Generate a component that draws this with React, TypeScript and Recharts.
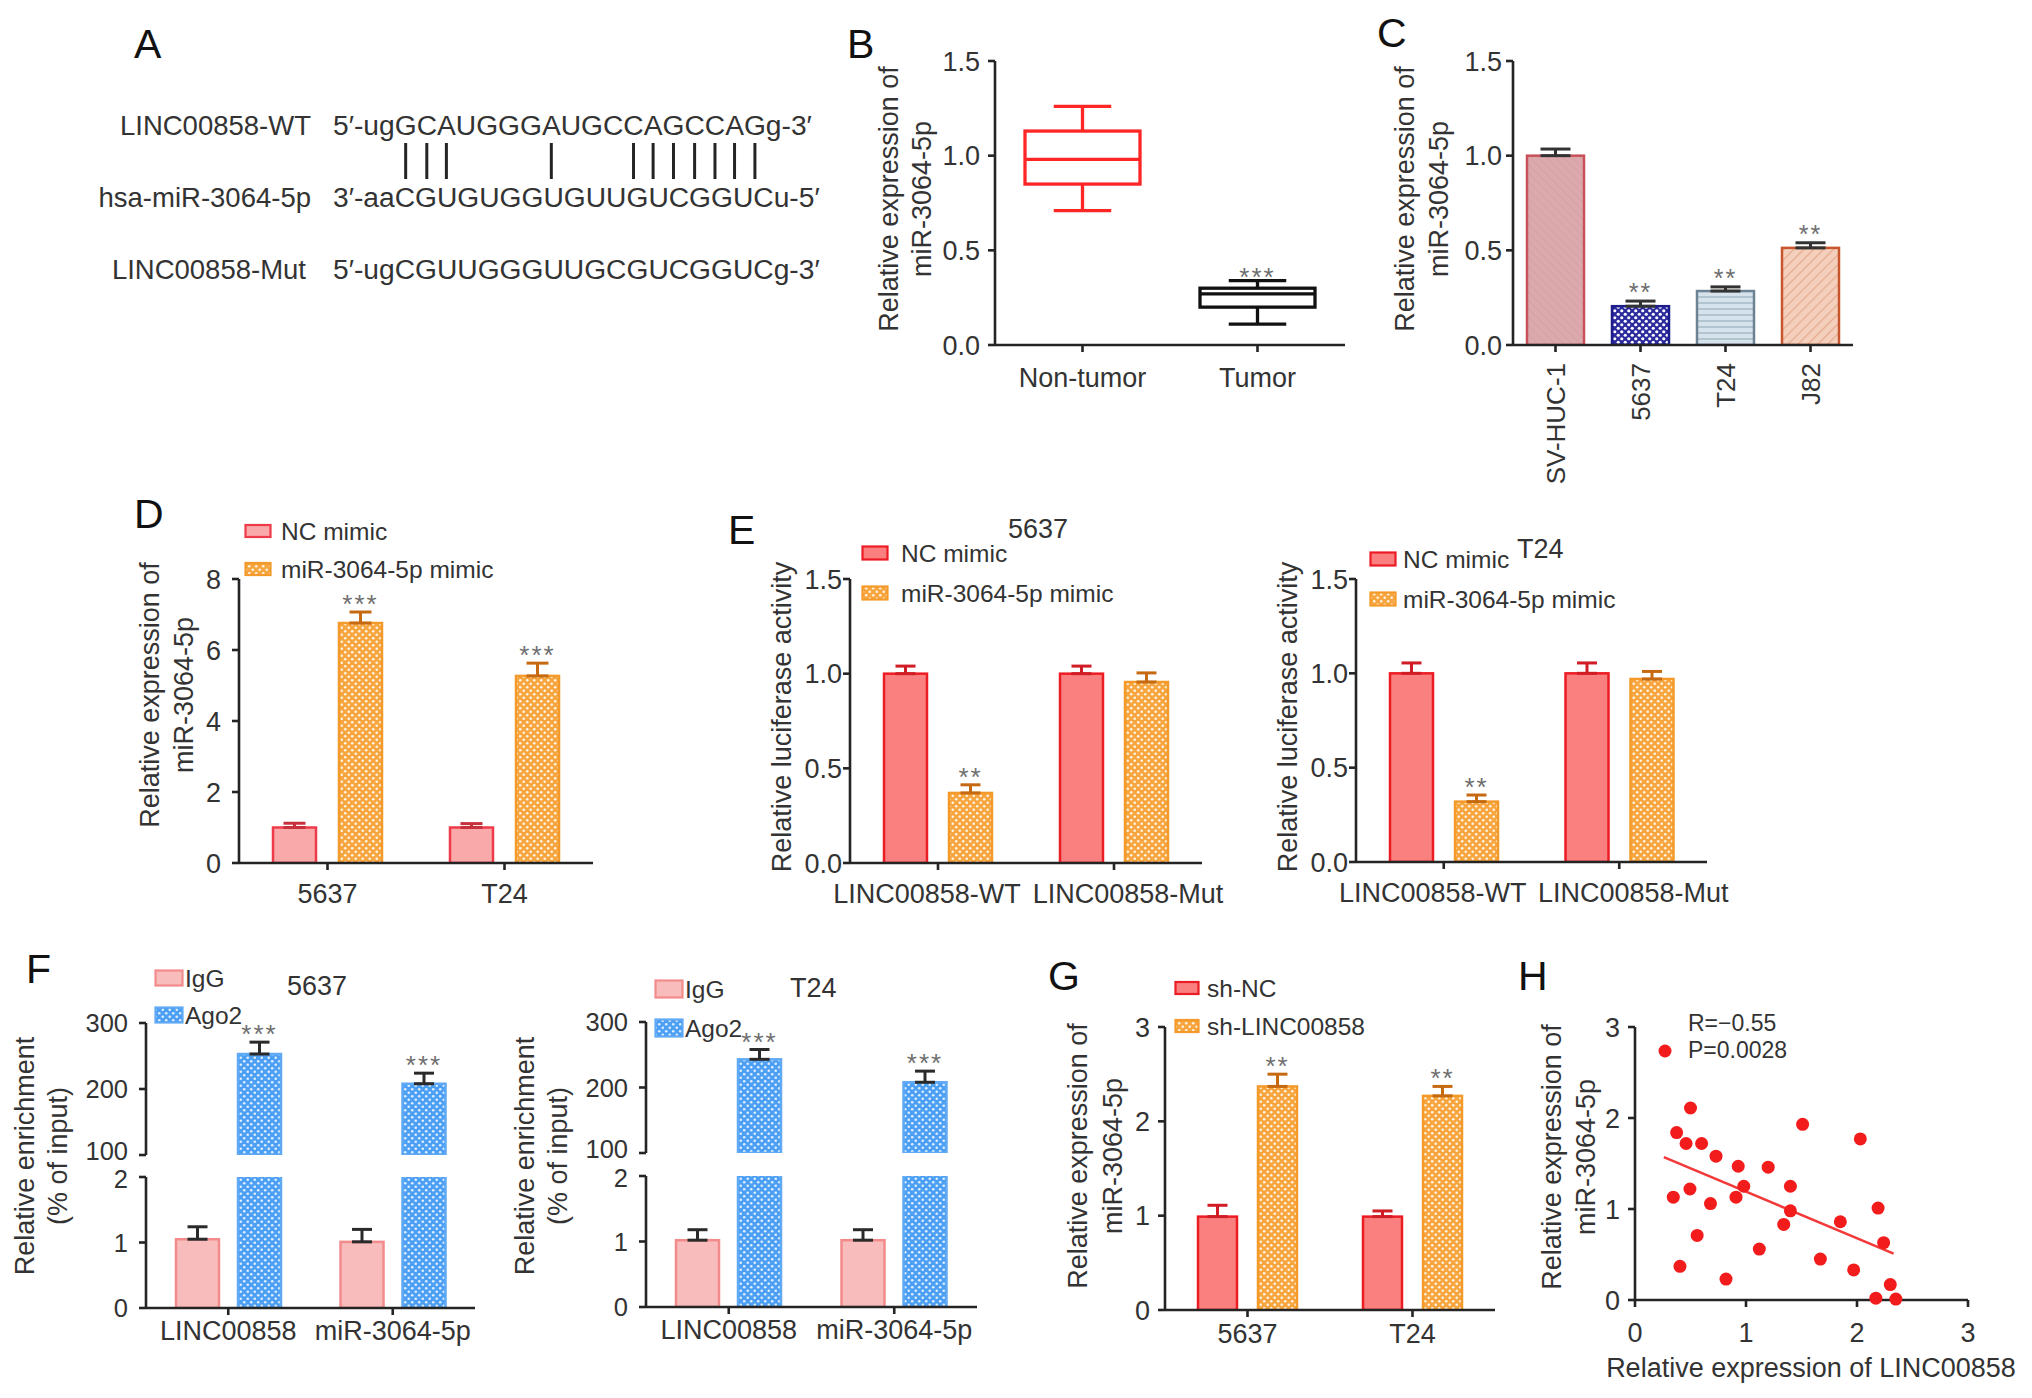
import React, { useLayoutEffect, useRef, useState } from 'react'
import { BarChart, Bar, XAxis, YAxis, ErrorBar, Legend, ScatterChart, Scatter, ReferenceLine } from 'recharts'

const FONT = '"Liberation Sans", Arial, Helvetica, sans-serif'
const INK = '#242424'
const TEXT = '#333333'
const STAR = '#6e6e6e'
const RED_DOT = '#f31c1c'

// ---------- data ----------
// A: sequence alignment
const seqLabels = ['LINC00858-WT', 'hsa-miR-3064-5p', 'LINC00858-Mut']
const seqStrings = ['5′-ugGCAUGGGAUGCCAGCCAGg-3′', '3′-aaCGUGUGGUGUUGUCGGUCu-5′', '5′-ugCGUUGGGUUGCGUCGGUCg-3′']
const seqPrefixLen = 5
const pairedIdx = [0, 1, 2, 7, 11, 12, 13, 14, 15, 16, 17]

// B: tissue box plot
const tissueGroups = ['Non-tumor', 'Tumor']
const tissueMin = [0.71, 0.11]
const tissueQ1 = [0.85, 0.2]
const tissueMedian = [0.98, 0.27]
const tissueQ3 = [1.13, 0.3]
const tissueMax = [1.26, 0.34]
const tissueSig = ['', '***']

// C: cell lines
const cellLines = ['SV-HUC-1', '5637', 'T24', 'J82']
const cellLineMean = [1.0, 0.205, 0.285, 0.513]
const cellLineErr = [0.035, 0.027, 0.022, 0.027]
const cellLineSig = ['', '**', '**', '**']

// D: mimic transfection
const mimicLines = ['5637', 'T24']
const dNc = [1.0, 1.0]
const dNcErr = [0.12, 0.11]
const dMimic = [6.76, 5.27]
const dMimicErr = [0.31, 0.36]
const dSig = ['***', '***']

// E: luciferase
const reporters = ['LINC00858-WT', 'LINC00858-Mut']
const e5637Nc = [1.0, 1.0]
const e5637NcErr = [0.04, 0.04]
const e5637Mimic = [0.37, 0.956]
const e5637MimicErr = [0.043, 0.048]
const eT24Nc = [1.0, 1.0]
const eT24NcErr = [0.055, 0.055]
const eT24Mimic = [0.32, 0.97]
const eT24MimicErr = [0.035, 0.04]
const eSig = ['**', '']

// F: RIP
const ripTargets = ['LINC00858', 'miR-3064-5p']
const f5637IgG = [1.05, 1.01]
const f5637IgGErr = [0.19, 0.19]
const f5637Ago2 = [253, 208]
const f5637Ago2Err = [18, 16]
const fT24IgG = [1.02, 1.02]
const fT24IgGErr = [0.16, 0.16]
const fT24Ago2 = [243, 208]
const fT24Ago2Err = [15, 17]
const fSig = ['***', '***']

// G: knockdown
const knockLines = ['5637', 'T24']
const gShNc = [0.99, 0.99]
const gShNcErr = [0.12, 0.06]
const gShLinc = [2.37, 2.27]
const gShLincErr = [0.13, 0.1]
const gSig = ['**', '**']

// H: correlation
const lincExpr = [0.375, 0.5, 0.46, 0.6, 0.73, 0.93, 1.2, 0.98, 1.4, 1.51, 2.03, 0.345, 0.495, 0.68, 0.91, 1.4, 1.34, 1.85, 2.19, 2.24, 0.56, 1.12, 0.405, 0.82, 1.67, 1.97, 2.3, 2.17, 2.35]
const mirExpr = [1.84, 2.11, 1.72, 1.72, 1.58, 1.47, 1.46, 1.25, 1.25, 1.93, 1.77, 1.13, 1.22, 1.06, 1.13, 0.98, 0.83, 0.86, 1.01, 0.63, 0.71, 0.56, 0.37, 0.23, 0.45, 0.33, 0.17, 0.02, 0.01]
const fitX = [0.26, 2.33]
const fitY = [1.57, 0.51]
const corrR = 'R=−0.55'
const corrP = 'P=0.0028'

const ticks15 = [0, 0.5, 1, 1.5]
const ticks8 = [0, 2, 4, 6, 8]
const ticks3 = [0, 1, 2, 3]
const ticksHi = [100, 200, 300]
const ticksLo = [0, 1, 2]

// ---------- styles ----------
const NC_D = { fill: '#f9a9a9', stroke: '#ee3b4a', err: '#c8303c' }
const NC_E = { fill: '#fa7f7f', stroke: '#ec1c24', err: '#d01c24' }
const ORANGE = { fill: 'url(#pOrange)', stroke: '#f39a2a', err: '#c66a12' }
const IGG = { fill: '#f9bcbc', stroke: '#f28b8b', err: '#2a2a2a' }
const AGO2 = { fill: 'url(#pBlue)', stroke: '#5fa9f5', err: '#2a2a2a' }
const BOX_COLOR: Record<string, string> = { 'Non-tumor': '#ff2626', Tumor: '#111111' }
const C_STYLE: Record<string, { fill: string; stroke: string }> = {
  'SV-HUC-1': { fill: 'url(#pRose)', stroke: '#c8505a' },
  '5637': { fill: 'url(#pNavy)', stroke: '#1c1c8c' },
  T24: { fill: 'url(#pLines)', stroke: '#6d8394' },
  J82: { fill: 'url(#pDiag)', stroke: '#c9552e' },
}

const axisProps = {
  axisLine: { stroke: INK, strokeWidth: 2.6 },
  tickLine: { stroke: INK, strokeWidth: 2.6 },
  tickSize: 7,
}
const tickStyle = { fontSize: 27, fill: TEXT, fontFamily: FONT }
const fmt1 = (v: number) => v.toFixed(1)

type Frame = { x0: number; y0: number; x1: number; y1: number; yW: number; mt: number; mr: number; xH: number; mb?: number }
function place(f: Frame) {
  const mb = f.mb ?? 0
  return {
    left: f.x0 - f.yW,
    top: f.y0 - f.mt,
    width: f.x1 - f.x0 + f.yW + f.mr,
    height: f.y1 - f.y0 + f.mt + f.xH + mb,
    margin: { top: f.mt, right: f.mr, bottom: mb, left: 0 },
  }
}

type Swatch = { label: string; fill: string; stroke: string }
function swatchLegend(frame: Frame, items: Swatch[], o: { sl: number; b0: number; sw: number; sh: number; dx: number; row: number }) {
  const p = place(frame)
  const pad = 28
  const h = o.row * items.length + pad
  const content = () => (
    <svg width={340} height={h} style={{ display: 'block', overflow: 'visible' }}>
      {items.map((it, i) => {
        const b = pad + i * o.row
        return (
          <g key={it.label}>
            <rect x={1.5} y={b - 9 - o.sh / 2} width={o.sw} height={o.sh} fill={it.fill} stroke={it.stroke} strokeWidth={2.2} />
            <text x={o.dx} y={b} fontSize={24.5} fill={TEXT} fontFamily={FONT}>{it.label}</text>
          </g>
        )
      })}
    </svg>
  )
  return (
    <Legend
      content={content}
      layout="vertical"
      align="center"
      verticalAlign="middle"
      wrapperStyle={{ left: o.sl - 1.5 - p.left, top: o.b0 - pad - p.top, width: 340, height: h }}
    />
  )
}

type Series = { key: string; errKey: string; sigKey?: string; fill: string; stroke: string; err: string; showErr: boolean }

function makeBarShape(s: Series, base: number) {
  return (p: any) => {
    const { x, y, width, height, payload } = p
    const v = payload[s.key]
    if (v == null || !isFinite(y) || !isFinite(height)) return <g />
    let sig = null
    if (s.sigKey && payload[s.sigKey]) {
      const ppu = height / (v - base)
      const top = y - payload[s.errKey][1] * ppu
      sig = (
        <text x={x + width / 2} y={top + 1} textAnchor="middle" fontSize={26} fill={STAR} letterSpacing={2} fontFamily={FONT}>
          {payload[s.sigKey]}
        </text>
      )
    }
    return (
      <g>
        <rect x={x} y={y} width={width} height={height} fill={s.fill} stroke={s.stroke} strokeWidth={2.5} />
        {sig}
      </g>
    )
  }
}

// x tick labels nudged apart where neighbours would collide (as GraphPad does)
function spreadTick(shifts: number[]) {
  return (p: any) => (
    <text x={p.x + (shifts[p.index] ?? 0)} y={p.y} dy="0.71em" textAnchor="middle" fontSize={27} fill={TEXT} fontFamily={FONT}>
      {p.payload.value}
    </text>
  )
}

// y tick labels around the axis break, a touch smaller and pulled apart
function breakTick(shift: Record<number, number>) {
  return (p: any) => (
    <text x={p.x} y={p.y + (shift[p.payload.value] ?? 0)} dy="0.355em" textAnchor="end" fontSize={25.5} fill={TEXT} fontFamily={FONT}>
      {p.payload.value}
    </text>
  )
}

function GroupedBars(props: {
  frame: Frame
  rows: any[]
  series: Series[]
  domain: [number, number]
  ticks: number[]
  fmt?: (v: number) => string
  barSize: number
  barGap: number
  cap: number
  yTickMargin: number
  xTickMargin?: number
  xTick?: any
  yTick?: any
  hideX?: boolean
  base?: number
  legend?: any
}) {
  const f = place(props.frame)
  return (
    <div style={{ position: 'absolute', left: f.left, top: f.top }}>
      <BarChart width={f.width} height={f.height} margin={f.margin} data={props.rows} barSize={props.barSize} barGap={props.barGap} style={{ fontFamily: FONT }}>
        <XAxis dataKey="name" hide={props.hideX} height={props.frame.xH} interval={0} tick={props.xTick ?? tickStyle} tickMargin={props.xTickMargin ?? 2} {...axisProps} />
        <YAxis type="number" domain={props.domain} ticks={props.ticks} interval={0} allowDataOverflow width={props.frame.yW} tick={props.yTick ?? tickStyle} tickFormatter={props.fmt} tickMargin={props.yTickMargin} {...axisProps} />
        {props.series.map((s) => (
          <Bar key={s.key} dataKey={s.key} isAnimationActive={false} shape={makeBarShape(s, props.base ?? 0)}>
            {s.showErr ? <ErrorBar dataKey={s.errKey} width={props.cap / 2} stroke={s.err} strokeWidth={3} direction="y" /> : null}
          </Bar>
        ))}
        {props.legend}
      </BarChart>
    </div>
  )
}

// ---------- B ----------
const B_FRAME: Frame = { x0: 995, y0: 61, x1: 1345, y1: 345, yW: 75, mt: 25, mr: 10, xH: 60 }
const bRows = tissueGroups.map((name, i) => ({
  name, min: tissueMin[i], q1: tissueQ1[i], median: tissueMedian[i], q3: tissueQ3[i], max: tissueMax[i], sig: tissueSig[i],
}))
const boxShape = (p: any) => {
  const { x, y, width, height, payload } = p
  const color = BOX_COLOR[payload.name]
  const ppu = height / (payload.max - payload.min)
  const py = (v: number) => y + (payload.max - v) * ppu
  const cx = x + width / 2
  const cap = width / 4
  return (
    <g>
      <g stroke={color} strokeWidth={3.3} fill="none">
        <line x1={cx} x2={cx} y1={py(payload.max)} y2={py(payload.q3)} />
        <line x1={cx} x2={cx} y1={py(payload.q1)} y2={py(payload.min)} />
        <line x1={cx - cap} x2={cx + cap} y1={py(payload.max)} y2={py(payload.max)} />
        <line x1={cx - cap} x2={cx + cap} y1={py(payload.min)} y2={py(payload.min)} />
        <rect x={x} y={py(payload.q3)} width={width} height={py(payload.q1) - py(payload.q3)} />
        <line x1={x} x2={x + width} y1={py(payload.median)} y2={py(payload.median)} />
      </g>
      {payload.sig ? (
        <text x={cx} y={py(payload.max) + 5} textAnchor="middle" fontSize={26} fill={STAR} letterSpacing={2} fontFamily={FONT}>{payload.sig}</text>
      ) : null}
    </g>
  )
}
function PanelB() {
  const f = place(B_FRAME)
  return (
    <div style={{ position: 'absolute', left: f.left, top: f.top }}>
      <BarChart width={f.width} height={f.height} margin={f.margin} data={bRows} barSize={115} style={{ fontFamily: FONT }}>
        <XAxis dataKey="name" height={B_FRAME.xH} interval={0} tick={tickStyle} tickMargin={16} {...axisProps} />
        <YAxis type="number" domain={[0, 1.5]} ticks={ticks15} interval={0} allowDataOverflow width={B_FRAME.yW} tick={tickStyle} tickFormatter={fmt1} tickMargin={8} {...axisProps} />
        <Bar dataKey={(d: any) => [d.min, d.max]} isAnimationActive={false} shape={boxShape} />
      </BarChart>
    </div>
  )
}

// ---------- C ----------
const C_FRAME: Frame = { x0: 1513, y0: 61, x1: 1853, y1: 345, yW: 75, mt: 25, mr: 10, xH: 140 }
const cRows = cellLines.map((name, i) => ({ name, mean: cellLineMean[i], err: [0, cellLineErr[i]], sig: cellLineSig[i] }))
const cShape = (p: any) => {
  const { x, y, width, height, payload } = p
  const st = C_STYLE[payload.name]
  const ppu = height / payload.mean
  const top = y - payload.err[1] * ppu
  return (
    <g>
      <rect x={x} y={y} width={width} height={height} fill={st.fill} stroke={st.stroke} strokeWidth={2.5} />
      {payload.sig ? (
        <text x={x + width / 2} y={top} textAnchor="middle" fontSize={25} fill={STAR} letterSpacing={2} fontFamily={FONT}>{payload.sig}</text>
      ) : null}
    </g>
  )
}
const rotTick = (p: any) => {
  const tx = p.x + 9
  const ty = p.y + 9
  return (
    <text x={tx} y={ty} transform={`rotate(-90 ${tx} ${ty})`} textAnchor="end" fontSize={26} fill={TEXT} fontFamily={FONT}>
      {p.payload.value}
    </text>
  )
}
function PanelC() {
  const f = place(C_FRAME)
  return (
    <div style={{ position: 'absolute', left: f.left, top: f.top }}>
      <BarChart width={f.width} height={f.height} margin={f.margin} data={cRows} barSize={57} style={{ fontFamily: FONT }}>
        <XAxis dataKey="name" height={C_FRAME.xH} interval={0} tick={rotTick} tickMargin={2} {...axisProps} />
        <YAxis type="number" domain={[0, 1.5]} ticks={ticks15} interval={0} allowDataOverflow width={C_FRAME.yW} tick={tickStyle} tickFormatter={fmt1} tickMargin={4} {...axisProps} />
        <Bar dataKey="mean" isAnimationActive={false} shape={cShape}>
          <ErrorBar dataKey="err" width={15} stroke="#333" strokeWidth={3} direction="y" />
        </Bar>
      </BarChart>
    </div>
  )
}

// ---------- D ----------
const D_FRAME: Frame = { x0: 239, y0: 579, x1: 593, y1: 863, yW: 60, mt: 65, mr: 10, xH: 60 }
const dRows = mimicLines.map((name, i) => ({ name, nc: dNc[i], ncErr: [0, dNcErr[i]], mimic: dMimic[i], mimicErr: [0, dMimicErr[i]], sig: dSig[i] }))

// ---------- E ----------
const E1_FRAME: Frame = { x0: 850, y0: 579, x1: 1202, y1: 863, yW: 60, mt: 65, mr: 45, xH: 60 }
const E2_FRAME: Frame = { x0: 1356, y0: 579, x1: 1707, y1: 862, yW: 60, mt: 65, mr: 45, xH: 60 }
const e1Rows = reporters.map((name, i) => ({ name, nc: e5637Nc[i], ncErr: [0, e5637NcErr[i]], mimic: e5637Mimic[i], mimicErr: [0, e5637MimicErr[i]], sig: eSig[i] }))
const e2Rows = reporters.map((name, i) => ({ name, nc: eT24Nc[i], ncErr: [0, eT24NcErr[i]], mimic: eT24Mimic[i], mimicErr: [0, eT24MimicErr[i]], sig: eSig[i] }))

// ---------- F ----------
const F1_HI: Frame = { x0: 146, y0: 1023, x1: 475, y1: 1155, yW: 75, mt: 65, mr: 10, xH: 0, mb: 18 }
const F1_LO: Frame = { x0: 146, y0: 1177, x1: 475, y1: 1308, yW: 75, mt: 20, mr: 10, xH: 50 }
const F2_HI: Frame = { x0: 646, y0: 1022, x1: 977, y1: 1153, yW: 75, mt: 65, mr: 10, xH: 0, mb: 18 }
const F2_LO: Frame = { x0: 646, y0: 1176, x1: 977, y1: 1307, yW: 75, mt: 20, mr: 10, xH: 50 }
const f1Rows = ripTargets.map((name, i) => ({ name, igg: f5637IgG[i], iggErr: [0, f5637IgGErr[i]], ago2: f5637Ago2[i], ago2Err: [0, f5637Ago2Err[i]], sig: fSig[i] }))
const f2Rows = ripTargets.map((name, i) => ({ name, igg: fT24IgG[i], iggErr: [0, fT24IgGErr[i]], ago2: fT24Ago2[i], ago2Err: [0, fT24Ago2Err[i]], sig: fSig[i] }))
const hiRows = (rows: any[]) => rows.map((r) => ({ ...r, igg: null }))
const hiTick = breakTick({ 100: -4 })
const loTick = breakTick({ 2: 2 })

// ---------- G ----------
const G_FRAME: Frame = { x0: 1165, y0: 1027, x1: 1495, y1: 1310, yW: 60, mt: 60, mr: 10, xH: 50 }
const gRows = knockLines.map((name, i) => ({ name, nc: gShNc[i], ncErr: [0, gShNcErr[i]], sh: gShLinc[i], shErr: [0, gShLincErr[i]], sig: gSig[i] }))

// ---------- H ----------
const H_FRAME: Frame = { x0: 1635, y0: 1027, x1: 1968, y1: 1300, yW: 60, mt: 40, mr: 30, xH: 60 }
const hRows = lincExpr.map((x, i) => ({ x, y: mirExpr[i] }))
const dotShape = (p: any) => <circle cx={p.cx} cy={p.cy} r={6.5} fill={RED_DOT} />
function PanelH() {
  const f = place(H_FRAME)
  const legend = () => (
    <svg width={220} height={66} style={{ display: 'block', overflow: 'visible' }}>
      <circle cx={10} cy={46} r={6.5} fill={RED_DOT} />
      <text x={33} y={26} fontSize={23} fill={TEXT} fontFamily={FONT}>{corrR}</text>
      <text x={33} y={53} fontSize={23} fill={TEXT} fontFamily={FONT}>{corrP}</text>
    </svg>
  )
  return (
    <div style={{ position: 'absolute', left: f.left, top: f.top }}>
      <ScatterChart width={f.width} height={f.height} margin={f.margin} style={{ fontFamily: FONT }}>
        <XAxis type="number" dataKey="x" domain={[0, 3]} ticks={ticks3} interval={0} height={H_FRAME.xH} tick={tickStyle} tickMargin={16} {...axisProps} />
        <YAxis type="number" dataKey="y" domain={[0, 3]} ticks={ticks3} interval={0} width={H_FRAME.yW} tick={tickStyle} tickMargin={8} {...axisProps} />
        <ReferenceLine segment={[{ x: fitX[0], y: fitY[0] }, { x: fitX[1], y: fitY[1] }]} stroke="#f23a3a" strokeWidth={2.6} />
        <Scatter data={hRows} isAnimationActive={false} shape={dotShape} />
        <Legend content={legend} layout="vertical" align="center" verticalAlign="middle" wrapperStyle={{ left: 1655 - f.left, top: 1005 - f.top, width: 220, height: 66 }} />
      </ScatterChart>
    </div>
  )
}

// ---------- overlay text ----------
const letters = [
  { t: 'A', x: 134, y: 58 }, { t: 'B', x: 847, y: 58 }, { t: 'C', x: 1377, y: 47 },
  { t: 'D', x: 134, y: 528 }, { t: 'E', x: 728, y: 544 }, { t: 'F', x: 26, y: 983 },
  { t: 'G', x: 1048, y: 990 }, { t: 'H', x: 1518, y: 990 },
]
const yTitles = [
  { lines: ['Relative expression of', 'miR-3064-5p'], xs: [898, 931], cy: 199 },
  { lines: ['Relative expression of', 'miR-3064-5p'], xs: [1414, 1448], cy: 199 },
  { lines: ['Relative expression of', 'miR-3064-5p'], xs: [159, 193], cy: 695 },
  { lines: ['Relative luciferase activity'], xs: [791], cy: 717 },
  { lines: ['Relative luciferase activity'], xs: [1297], cy: 717 },
  { lines: ['Relative enrichment', '(% of input)'], xs: [34, 67], cy: 1156 },
  { lines: ['Relative enrichment', '(% of input)'], xs: [534, 567], cy: 1156 },
  { lines: ['Relative expression of', 'miR-3064-5p'], xs: [1087, 1122], cy: 1156 },
  { lines: ['Relative expression of', 'miR-3064-5p'], xs: [1561, 1595], cy: 1157 },
]
const subTitles = [
  { t: '5637', x: 1008, y: 538 }, { t: 'T24', x: 1517, y: 558 },
  { t: '5637', x: 287, y: 995 }, { t: 'T24', x: 790, y: 997 },
]
const A_ROWS = [135, 207, 279]
const A_LABEL_RIGHT = [311, 311, 306]
const A_SEQ_X = 333

function Alignment() {
  const ref = useRef<SVGTextElement>(null)
  const [xs, setXs] = useState<number[]>([])
  useLayoutEffect(() => {
    const el = ref.current
    if (!el) return
    setXs(pairedIdx.map((i) => {
      const b = el.getExtentOfChar(seqPrefixLen + i)
      return b.x + b.width / 2
    }))
  }, [])
  return (
    <g fill={TEXT}>
      {seqLabels.map((l, i) => (
        <g key={l}>
          <text x={A_LABEL_RIGHT[i]} y={A_ROWS[i]} textAnchor="end" fontSize={27.5}>{l}</text>
          <text ref={i === 0 ? ref : undefined} x={A_SEQ_X} y={A_ROWS[i]} fontSize={28.2}>{seqStrings[i]}</text>
        </g>
      ))}
      {xs.map((x, i) => (
        <line key={i} x1={x} x2={x} y1={143} y2={179} stroke={INK} strokeWidth={3} />
      ))}
    </g>
  )
}

function Overlay() {
  return (
    <svg width={2032} height={1398} style={{ position: 'absolute', left: 0, top: 0, pointerEvents: 'none' }} fontFamily={FONT}>
      {letters.map((l) => (
        <text key={l.t} x={l.x} y={l.y} fontSize={41} fill="#111">{l.t}</text>
      ))}
      <Alignment />
      {yTitles.map((t, k) =>
        t.lines.map((line, i) => (
          <text key={`${k}-${i}`} x={t.xs[i]} y={t.cy} transform={`rotate(-90 ${t.xs[i]} ${t.cy})`} textAnchor="middle" fontSize={27} fill={TEXT}>
            {line}
          </text>
        )),
      )}
      {subTitles.map((s, i) => (
        <text key={i} x={s.x} y={s.y} fontSize={27} fill={TEXT}>{s.t}</text>
      ))}
      <text x={1811} y={1377} textAnchor="middle" fontSize={27} fill={TEXT}>Relative expression of LINC00858</text>
    </svg>
  )
}

function Patterns() {
  return (
    <svg width={0} height={0} style={{ position: 'absolute' }}>
      <defs>
        <pattern id="pOrange" width={7} height={7} patternUnits="userSpaceOnUse">
          <rect width={7} height={7} fill="#f7a53e" />
          <circle cx={1.75} cy={1.75} r={1.3} fill="#fff3e2" />
          <circle cx={5.25} cy={5.25} r={1.3} fill="#fff3e2" />
        </pattern>
        <pattern id="pBlue" width={7} height={7} patternUnits="userSpaceOnUse">
          <rect width={7} height={7} fill="#4d9ff3" />
          <circle cx={1.75} cy={1.75} r={1.3} fill="#dcefff" />
          <circle cx={5.25} cy={5.25} r={1.3} fill="#dcefff" />
        </pattern>
        <pattern id="pNavy" width={7} height={7} patternUnits="userSpaceOnUse">
          <rect width={7} height={7} fill="#2b2b9e" />
          <circle cx={1.75} cy={1.75} r={1.6} fill="#ffffff" />
          <circle cx={5.25} cy={5.25} r={1.6} fill="#ffffff" />
        </pattern>
        <pattern id="pLines" width={6} height={6} patternUnits="userSpaceOnUse">
          <rect width={6} height={6} fill="#d6e2ec" />
          <line x1={0} x2={6} y1={3} y2={3} stroke="#9cb0c0" strokeWidth={1.2} />
        </pattern>
        <pattern id="pDiag" width={7} height={7} patternUnits="userSpaceOnUse" patternTransform="rotate(-45)">
          <rect width={7} height={7} fill="#f3cfbc" />
          <line x1={0} x2={7} y1={3.5} y2={3.5} stroke="#e6ab8e" strokeWidth={1.2} />
        </pattern>
        <pattern id="pRose" width={6} height={6} patternUnits="userSpaceOnUse" patternTransform="rotate(45)">
          <rect width={6} height={6} fill="#dcaaad" />
          <line x1={0} x2={6} y1={3} y2={3} stroke="#d49ea2" strokeWidth={1} />
        </pattern>
      </defs>
    </svg>
  )
}

export default function App() {
  const ncD: Series = { key: 'nc', errKey: 'ncErr', fill: NC_D.fill, stroke: NC_D.stroke, err: NC_D.err, showErr: true }
  const mimicD: Series = { key: 'mimic', errKey: 'mimicErr', sigKey: 'sig', fill: ORANGE.fill, stroke: ORANGE.stroke, err: ORANGE.err, showErr: true }
  const ncE: Series = { key: 'nc', errKey: 'ncErr', fill: NC_E.fill, stroke: NC_E.stroke, err: NC_E.err, showErr: true }
  const mimicE: Series = { ...mimicD }
  const shNc: Series = { key: 'nc', errKey: 'ncErr', fill: NC_E.fill, stroke: NC_E.stroke, err: NC_E.err, showErr: true }
  const shLinc: Series = { key: 'sh', errKey: 'shErr', sigKey: 'sig', fill: ORANGE.fill, stroke: ORANGE.stroke, err: ORANGE.err, showErr: true }
  const iggHi: Series = { key: 'igg', errKey: 'iggErr', fill: IGG.fill, stroke: IGG.stroke, err: IGG.err, showErr: false }
  const ago2Hi: Series = { key: 'ago2', errKey: 'ago2Err', sigKey: 'sig', fill: AGO2.fill, stroke: AGO2.stroke, err: AGO2.err, showErr: true }
  const iggLo: Series = { ...iggHi, showErr: true }
  const ago2Lo: Series = { key: 'ago2', errKey: 'ago2Err', fill: AGO2.fill, stroke: AGO2.stroke, err: AGO2.err, showErr: false }

  const mimicItems: Swatch[] = [
    { label: 'NC mimic', fill: NC_E.fill, stroke: NC_E.stroke },
    { label: 'miR-3064-5p mimic', fill: ORANGE.fill, stroke: ORANGE.stroke },
  ]
  const mimicItemsD: Swatch[] = [
    { label: 'NC mimic', fill: NC_D.fill, stroke: NC_D.stroke },
    { label: 'miR-3064-5p mimic', fill: ORANGE.fill, stroke: ORANGE.stroke },
  ]
  const ripItems: Swatch[] = [
    { label: 'IgG', fill: IGG.fill, stroke: IGG.stroke },
    { label: 'Ago2', fill: AGO2.fill, stroke: AGO2.stroke },
  ]
  const shItems: Swatch[] = [
    { label: 'sh-NC', fill: NC_E.fill, stroke: NC_E.stroke },
    { label: 'sh-LINC00858', fill: ORANGE.fill, stroke: ORANGE.stroke },
  ]
  const eTick = spreadTick([-11, 14])

  return (
    <div style={{ position: 'absolute', left: 0, top: 0, width: 2032, height: 1398, background: '#fff', overflow: 'hidden', fontFamily: FONT }}>
      <Patterns />
      <PanelB />
      <PanelC />
      <GroupedBars
        frame={D_FRAME} rows={dRows} series={[ncD, mimicD]} domain={[0, 8]} ticks={ticks8}
        barSize={43} barGap={23} cap={22} yTickMargin={11} xTickMargin={14}
        legend={swatchLegend(D_FRAME, mimicItemsD, { sl: 245, b0: 540, sw: 25, sh: 12, dx: 37, row: 38 })}
      />
      <GroupedBars
        frame={E1_FRAME} rows={e1Rows} series={[ncE, mimicE]} domain={[0, 1.5]} ticks={ticks15} fmt={fmt1}
        barSize={43} barGap={22} cap={20} yTickMargin={1} xTickMargin={14} xTick={eTick}
        legend={swatchLegend(E1_FRAME, mimicItems, { sl: 862, b0: 562, sw: 25, sh: 13, dx: 40, row: 40 })}
      />
      <GroupedBars
        frame={E2_FRAME} rows={e2Rows} series={[ncE, mimicE]} domain={[0, 1.5]} ticks={ticks15} fmt={fmt1}
        barSize={43} barGap={22} cap={20} yTickMargin={1} xTickMargin={14} xTick={eTick}
        legend={swatchLegend(E2_FRAME, mimicItems, { sl: 1370, b0: 568, sw: 25, sh: 13, dx: 34, row: 40 })}
      />
      <GroupedBars
        frame={F1_HI} rows={hiRows(f1Rows)} series={[iggHi, ago2Hi]} domain={[100, 300]} ticks={ticksHi}
        barSize={43} barGap={19} cap={20} yTickMargin={11} yTick={hiTick} hideX base={100}
        legend={swatchLegend(F1_HI, ripItems, { sl: 155, b0: 987, sw: 27, sh: 15, dx: 31, row: 37 })}
      />
      <GroupedBars
        frame={F1_LO} rows={f1Rows} series={[iggLo, ago2Lo]} domain={[0, 2]} ticks={ticksLo}
        barSize={43} barGap={19} cap={20} yTickMargin={11} yTick={loTick} xTickMargin={6}
      />
      <GroupedBars
        frame={F2_HI} rows={hiRows(f2Rows)} series={[iggHi, ago2Hi]} domain={[100, 300]} ticks={ticksHi}
        barSize={43} barGap={19} cap={20} yTickMargin={11} yTick={hiTick} hideX base={100}
        legend={swatchLegend(F2_HI, ripItems, { sl: 655, b0: 998, sw: 27, sh: 17, dx: 31, row: 39 })}
      />
      <GroupedBars
        frame={F2_LO} rows={f2Rows} series={[iggLo, ago2Lo]} domain={[0, 2]} ticks={ticksLo}
        barSize={43} barGap={19} cap={20} yTickMargin={11} yTick={loTick} xTickMargin={6}
      />
      <GroupedBars
        frame={G_FRAME} rows={gRows} series={[shNc, shLinc]} domain={[0, 3]} ticks={ticks3}
        barSize={39} barGap={21} cap={20} yTickMargin={8} xTickMargin={7}
        legend={swatchLegend(G_FRAME, shItems, { sl: 1175, b0: 997, sw: 23, sh: 12, dx: 33, row: 38 })}
      />
      <PanelH />
      <Overlay />
    </div>
  )
}
